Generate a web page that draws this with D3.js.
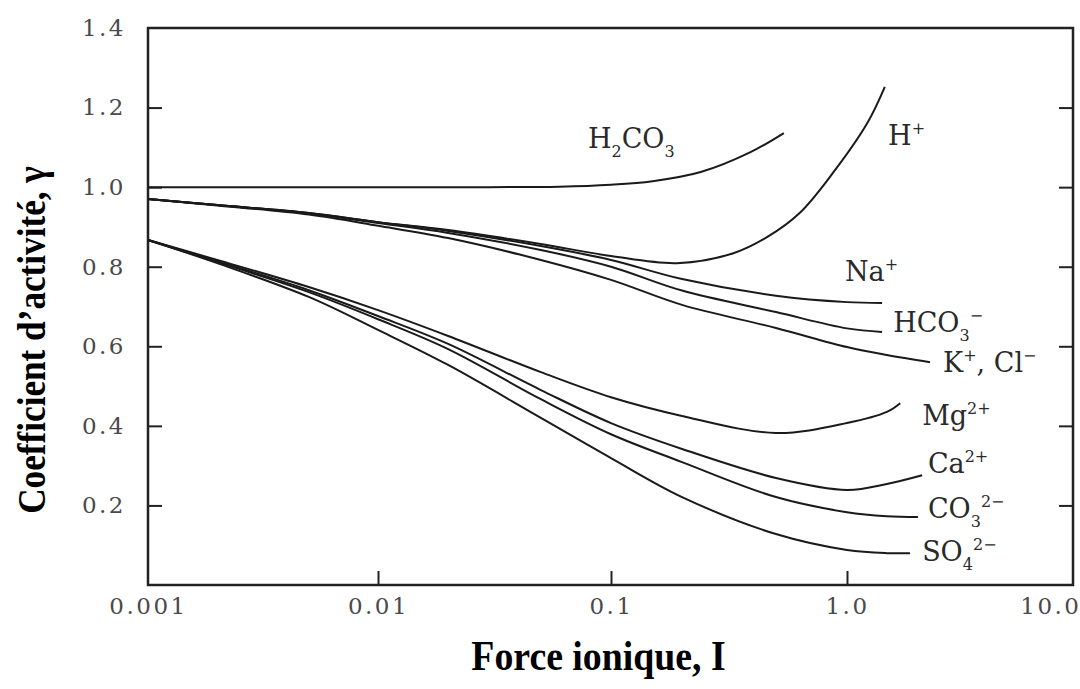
<!DOCTYPE html>
<html>
<head>
<meta charset="utf-8">
<script src="https://cdn.jsdelivr.net/npm/d3@7"></script>
<style>
  body { margin: 0; background: #fff; }
  svg { display: block; }
</style>
</head>
<body>
<svg id="chart" width="1080" height="689"></svg>
<script>

// data: [ionic strength I, activity coefficient]
var h2co3 = [[0.001,1.0],[0.01,1.0],[0.03,1.0],[0.06,1.001],[0.1,1.006],[0.15,1.015],[0.24,1.038],[0.39,1.088],[0.54,1.136]];
var hPlus = [[0.001,0.970],[0.002,0.955],[0.005,0.935],[0.01,0.912],[0.02,0.892],[0.05,0.857],[0.1,0.827],[0.19,0.809],[0.33,0.834],[0.46,0.875],[0.63,0.935],[0.87,1.035],[1.23,1.161],[1.47,1.252]];
var naPlus = [[0.001,0.970],[0.002,0.955],[0.005,0.935],[0.01,0.912],[0.02,0.890],[0.05,0.852],[0.1,0.817],[0.2,0.769],[0.5,0.727],[1.0,0.711],[1.43,0.709]];
var hco3 = [[0.001,0.970],[0.002,0.955],[0.005,0.934],[0.01,0.910],[0.02,0.885],[0.05,0.842],[0.1,0.800],[0.2,0.740],[0.5,0.686],[1.0,0.645],[1.43,0.636]];
var kCl = [[0.001,0.970],[0.002,0.954],[0.005,0.931],[0.01,0.903],[0.02,0.872],[0.05,0.817],[0.1,0.767],[0.2,0.704],[0.5,0.646],[1.0,0.598],[1.5,0.578],[2.33,0.560]];
var mg = [[0.001,0.867],[0.002,0.817],[0.005,0.749],[0.01,0.691],[0.02,0.626],[0.05,0.535],[0.1,0.472],[0.2,0.425],[0.5,0.382],[1.0,0.407],[1.5,0.435],[1.72,0.457]];
var ca = [[0.001,0.867],[0.002,0.814],[0.005,0.741],[0.01,0.676],[0.02,0.606],[0.05,0.490],[0.1,0.407],[0.2,0.342],[0.5,0.269],[1.0,0.239],[1.5,0.254],[2.15,0.276]];
var co3 = [[0.001,0.867],[0.002,0.812],[0.005,0.736],[0.01,0.668],[0.02,0.593],[0.05,0.467],[0.1,0.379],[0.2,0.309],[0.5,0.221],[1.0,0.183],[1.5,0.173],[2.06,0.171]];
var so4 = [[0.001,0.867],[0.002,0.809],[0.005,0.724],[0.01,0.641],[0.02,0.553],[0.05,0.420],[0.1,0.319],[0.2,0.221],[0.5,0.128],[1.0,0.088],[1.5,0.080],[1.9,0.080]];

var allSeries = [h2co3, hPlus, naPlus, hco3, kCl, mg, ca, co3, so4];

// labels, with sub / sup parts
var labelParts = [
    [["H"],["2","sub"],["CO"],["3","sub"]],
    [["H"],["+","sup"]],
    [["Na"],["+","sup"]],
    [["HCO"],["3","sub"],["\u2212","sup"]],
    [["K"],["+","sup"],[", Cl"],["\u2212","sup"]],
    [["Mg"],["2+","sup"]],
    [["Ca"],["2+","sup"]],
    [["CO"],["3","sub"],["2\u2212","sup"]],
    [["SO"],["4","sub"],["2\u2212","sup"]]
];
// where each label starts, in data units [I, gamma]
var labelAt = [[0.0796,1.098],[1.52,1.106],[0.98,0.764],[1.6,0.636],[2.66,0.535],[2.15,0.402],[2.28,0.281],[2.28,0.168],[2.15,0.060]];

var xTicks = [0.001, 0.01, 0.1, 1, 10];
var xTickLabels = ["0.001", "0.01", "0.1", "1.0", "10.0"];
var yTicks = [0.2, 0.4, 0.6, 0.8, 1.0, 1.2, 1.4];

var svg = d3.select("#chart");
const width = 1080, height = 689;
const margin = { top: 28, right: 7, bottom: 104, left: 148 };
const Innerwidth = width - margin.left - margin.right;
const Innerheight = height - margin.top - margin.bottom;

var g = svg.append("g").attr("transform", `translate(${margin.left},${margin.top})`);

// the decades are not quite equal on the original
var xScale = d3.scaleLog()
    .domain(xTicks)
    .range([0, 230, 463, 699, Innerwidth]);

var yScale = d3.scaleLinear()
    .domain([0, 1.4])
    .range([Innerheight, 0]);

var tickFont = "'DejaVu Serif', serif";

// inward ticks
g.append("g")
    .attr("transform", `translate(0,${Innerheight})`)
    .call(d3.axisBottom(xScale).tickValues([0.01, 0.1, 1]).tickSize(-14).tickFormat(""))
    .call(a => a.select(".domain").remove());
g.append("g")
    .call(d3.axisLeft(yScale).tickValues(yTicks.slice(0, 6)).tickSize(-14).tickFormat(""))
    .call(a => a.select(".domain").remove());
g.append("g")
    .attr("transform", `translate(${Innerwidth},0)`)
    .call(d3.axisRight(yScale).tickValues(yTicks.slice(0, 6)).tickSize(-14).tickFormat(""))
    .call(a => a.select(".domain").remove());
g.selectAll(".tick line").attr("stroke", "#222").attr("stroke-width", 2);

// tick labels
var xAxis = g.append("g")
    .attr("transform", `translate(0,${Innerheight})`)
    .call(d3.axisBottom(xScale).tickValues(xTicks).tickSize(0).tickPadding(13)
        .tickFormat((d, i) => xTickLabels[i]));
xAxis.select(".domain").remove();
xAxis.selectAll("text")
    .style("font-family", tickFont).style("font-size", "23px")
    .style("letter-spacing", "2.5px").attr("fill", "#4a4a4a");
xAxis.selectAll(".tick").filter((d, i) => i === xTicks.length - 1)
    .select("text").attr("text-anchor", "end").attr("x", 8);

var yAxis = g.append("g")
    .call(d3.axisLeft(yScale).tickValues(yTicks).tickSize(0).tickPadding(22)
        .tickFormat(d3.format(".1f")));
yAxis.select(".domain").remove();
yAxis.selectAll("text")
    .style("font-family", tickFont).style("font-size", "23px")
    .style("letter-spacing", "2.5px").attr("fill", "#4a4a4a");

// frame
g.append("rect")
    .attr("width", Innerwidth)
    .attr("height", Innerheight)
    .attr("fill", "none")
    .attr("stroke", "#222")
    .attr("stroke-width", 2.5);

// curves
var line = d3.line()
    .x(d => xScale(d[0]))
    .y(d => yScale(d[1]))
    .curve(d3.curveCatmullRom.alpha(0.5));

g.selectAll(".curve")
    .data(allSeries)
    .enter()
    .append("path")
    .attr("class", "curve")
    .attr("fill", "none")
    .attr("stroke", "#1a1a1a")
    .attr("stroke-width", 2)
    .attr("d", line);

// curve labels
var offsets = { sub: 9, sup: -11 };
g.selectAll(".curve-label")
    .data(labelParts)
    .enter()
    .append("text")
    .attr("class", "curve-label")
    .attr("x", (d, i) => xScale(labelAt[i][0]))
    .attr("y", (d, i) => yScale(labelAt[i][1]))
    .style("font-family", "'DejaVu Serif', serif")
    .style("font-size", "27px")
    .attr("fill", "#2a2a2a")
    .each(function (parts) {
        var t = d3.select(this);
        var cur = 0;
        parts.forEach(function (p) {
            var target = p[1] ? offsets[p[1]] : 0;
            t.append("tspan")
                .attr("dy", target - cur)
                .style("font-size", p[1] ? "16px" : null)
                .text(p[0]);
            cur = target;
        });
    });

// axis titles (the original font is a narrow bold Times)
var titleFont = "'Liberation Serif', 'Times New Roman', serif";
svg.append("text")
    .attr("transform", `translate(${margin.left + Innerwidth / 2 - 12},670) scale(0.9,1)`)
    .style("text-anchor", "middle")
    .style("font-family", titleFont)
    .style("font-weight", "bold")
    .style("font-size", "42px")
    .text("Force ionique, I");

svg.append("text")
    .attr("transform", "translate(45,340) rotate(-90) scale(0.88,1)")
    .style("text-anchor", "middle")
    .style("font-family", titleFont)
    .style("font-weight", "bold")
    .style("font-size", "40px")
    .text("Coefficient d\u2019activit\u00e9, \u03b3");

</script>
</body>
</html>
